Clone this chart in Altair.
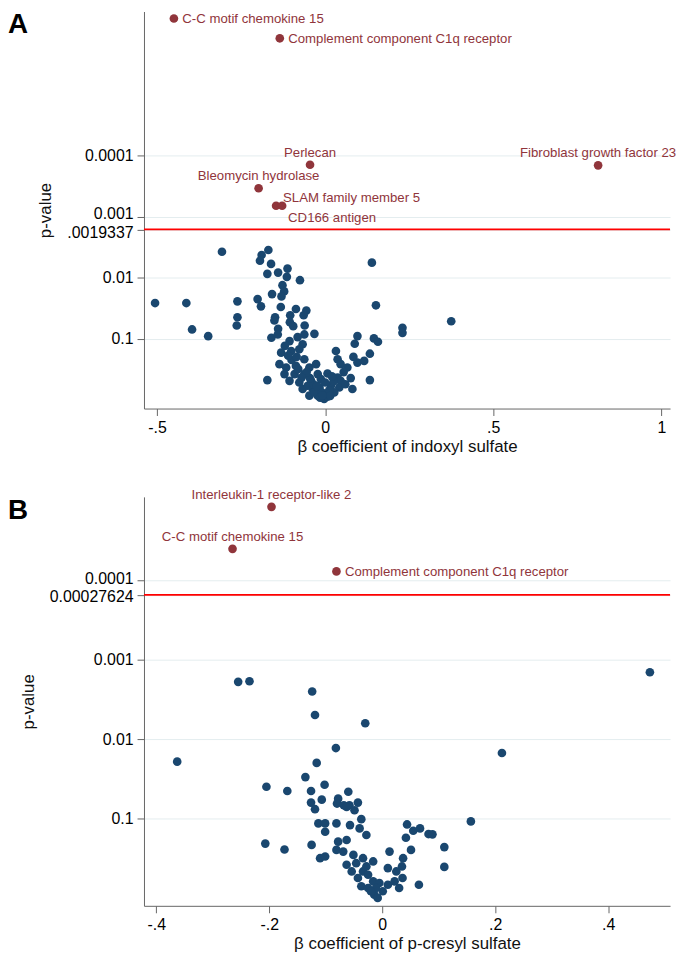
import altair as alt
import pandas as pd

BLUE = "#1a476f"
MAROON = "#90353b"
FONT = "Liberation Sans"

# ---------------- Panel A : indoxyl sulfate ----------------
a_beta = [-0.307, -0.169, -0.189, -0.194, -0.161, -0.112, -0.140, -0.172, -0.114, -0.075,
          0.139, -0.127, -0.122, -0.130, -0.158, -0.506, -0.413, -0.261, -0.201, -0.191,
          -0.132, -0.087, -0.056, 0.151, -0.104, -0.064, -0.261, -0.149, -0.151, -0.105,
          -0.263, -0.396, -0.140, -0.095, -0.061, -0.348, 0.230, 0.230, 0.375,
          -0.160, -0.141, -0.106, -0.082, -0.062, -0.032, -0.067, -0.131, -0.101, -0.077,
          0.096, 0.088, 0.145, 0.157, 0.032, 0.037, 0.084, 0.133, -0.136, -0.116,
          -0.087, -0.062, -0.047, -0.027, -0.091, -0.121, -0.062, -0.022, 0.007, 0.046,
          0.066, 0.096, 0.116, -0.172, 0.133, 0.076, -0.106, -0.077, -0.042, -0.013,
          0.037, 0.046, -0.067, -0.037, -0.017, 0.017, 0.042, 0.081, -0.047, -0.022,
          -0.003, 0.007, 0.027, -0.032, -0.052,
          -0.035, -0.010, 0.012, -0.015, 0.015, -0.045, -0.055, 0.000, 0.025, -0.070,
          -0.080, -0.100, -0.110, -0.120, -0.085, 0.055, 0.060, 0.020, -0.025, -0.008]
a_log10p = [-2.425, -2.453, -2.371, -2.278, -2.225, -2.148, -2.083, -2.062, -2.013, -1.958,
            -2.246, -1.876, -1.774, -1.692, -1.730, -1.583, -1.583, -1.611, -1.648, -1.529,
            -1.518, -1.485, -1.459, -1.546, -1.383, -1.383, -1.350, -1.350, -1.296, -1.269,
            -1.215, -1.150, -1.160, -1.204, -1.215, -1.040, -1.176, -1.094, -1.285,
            -1.013, -1.068, -0.959, -1.024, -1.068, -1.078, -0.906, -0.769, -0.797, -0.824,
            -1.041, -0.915, -1.003, -0.948, -0.797, -0.661, -0.699, -0.752, -0.580, -0.525,
            -0.552, -0.661, -0.525, -0.580, -0.417, -0.417, -0.417, -0.417, -0.427, -0.580,
            -0.525, -0.606, -0.634, -0.319, -0.319, -0.352, -0.307, -0.280, -0.307, -0.335,
            -0.362, -0.307, -0.173, -0.173, -0.199, -0.226, -0.199, -0.173, -0.064, -0.064,
            -0.010, -0.047, -0.117, -0.117, -0.226,
            -0.250, -0.120, -0.150, -0.030, -0.060, -0.350, -0.450, -0.280, -0.300, -0.360,
            -0.500, -0.650, -0.720, -0.880, -0.700, -0.450, -0.250, -0.380, -0.220, -0.070]

a_sig_names = ["C-C motif chemokine 15", "Complement component C1q receptor", "Perlecan",
               "Fibroblast growth factor 23", "Bleomycin hydrolase",
               "SLAM family member 5", "CD166 antigen"]
a_sig_beta = [-0.450, -0.135, -0.045, 0.812, -0.198, -0.146, -0.128]
a_sig_log10p = [-6.252, -5.927, -3.852, -3.842, -3.467, -3.180, -3.180]
a_sig_labelpos = ["3", "3", "12", "12", "12", "1", "5"]   # clock positions

a_x_ticks = [-0.5, 0, 0.5, 1]
a_x_labels = ["-.5", "0", ".5", "1"]
a_threshold = 0.00162          # where the .0019337 line is drawn
a_y_ticks = [0.0001, 0.001, a_threshold, 0.01, 0.1]
a_y_labels = ["0.0001", "0.001", ".0019337", "0.01", "0.1"]
a_label_nudge = [0, -3, 3, 0, 0]
a_x_domain = [-0.539, 1.026]
a_y_domain = [4.3e-7, 1.406]

# ---------------- Panel B : p-cresyl sulfate ----------------
b_beta = [-0.255, -0.235, -0.124, -0.119, -0.030, -0.082, -0.363, -0.116, -0.136, -0.102,
          -0.205, -0.168, -0.126, -0.060, -0.107, -0.126, -0.078, -0.043, -0.080, -0.068,
          -0.058,
          0.474, 0.212, 0.157, 0.044, 0.055, 0.067, 0.082, 0.042,
          -0.119, -0.063, -0.049, -0.113, -0.101, -0.101, -0.081, -0.057, -0.037, -0.040,
          -0.028, 0.051, -0.125, -0.110, -0.101, -0.078, -0.063, -0.081, -0.069, 0.013,
          0.037, 0.035, 0.065, -0.063, -0.051, -0.034, -0.016, -0.054, -0.043, -0.034,
          -0.025, -0.037, -0.025, -0.014, -0.008, 0.001, 0.010, 0.022, 0.030, 0.036,
          0.010, 0.025, -0.016, -0.005, -0.046, -0.028, -0.011, -0.020,
          -0.207, -0.173, 0.110, 0.110, 0.089]
b_log10p = [-2.721, -2.729, -2.600, -2.304, -2.200, -1.887, -1.716, -1.700, -1.521, -1.425,
            -1.400, -1.346, -1.346, -1.337, -1.237, -1.200, -1.250, -1.200, -1.188, -1.166,
            -1.166,
            -2.842, -1.825, -0.963, -0.925, -0.846, -0.875, -0.804, -0.758,
            -1.117, -1.146, -1.104, -0.938, -0.938, -0.833, -0.938, -0.917, -0.992, -0.875,
            -0.792, -0.604, -0.667, -0.500, -0.521, -0.708, -0.729, -0.604, -0.583, -0.583,
            -0.500, -0.396, -0.166, -0.417, -0.541, -0.500, -0.459, -0.333, -0.250, -0.333,
            -0.291, -0.146, -0.125, -0.041, 0.000, -0.083, -0.166, -0.208, -0.125, -0.250,
            -0.375, -0.333, -0.208, -0.187, -0.437, -0.396, -0.125, -0.083,
            -0.684, -0.609, -0.640, -0.390, -0.800]

b_sig_names = ["Interleukin-1 receptor-like 2", "C-C motif chemokine 15",
               "Complement component C1q receptor"]
b_sig_beta = [-0.196, -0.265, -0.081]
b_sig_log10p = [-4.925, -4.396, -4.112]
b_sig_labelpos = ["12", "12", "3"]

b_x_ticks = [-0.4, -0.2, 0, 0.2, 0.4]
b_x_labels = ["-.4", "-.2", "0", ".2", ".4"]
b_threshold = 0.000153         # where the 0.00027624 line is drawn
b_y_ticks = [0.0001, b_threshold, 0.001, 0.01, 0.1]
b_y_labels = ["0.0001", "0.00027624", "0.001", "0.01", "0.1"]
b_label_nudge = [-2, 2, 0, 0, 0]
b_x_domain = [-0.4218, 0.5097]
b_y_domain = [8.9e-6, 1.259]

# marker-label placement by clock position
LABEL_STYLE = {
    "3": dict(align="left", dx=8.5, dy=1),
    "12": dict(align="center", dx=0, dy=-12),
    "1": dict(align="left", dx=7, dy=-7.5),
    "5": dict(align="left", dx=6, dy=12),
}


def label_expr(values, labels):
    expr = "''"
    for v, lab in reversed(list(zip(values, labels))):
        expr = f"datum.value == {v!r} ? '{lab}' : ({expr})"
    return expr


def nudge(values, offsets):
    conds = [{"test": f"datum.value == {v!r}", "value": o}
             for v, o in zip(values, offsets) if o != 0]
    return {"condition": conds, "value": 0}


def panel(letter, beta, log10p, sig_names, sig_beta, sig_log10p, sig_pos,
          x_ticks, x_labels, y_ticks, y_labels, y_nudge, thr, x_domain, y_domain,
          x_title, height):
    pts = pd.DataFrame({"beta": beta, "p": [10 ** v for v in log10p]})
    sig = pd.DataFrame({"name": sig_names, "beta": sig_beta,
                        "p": [10 ** v for v in sig_log10p], "pos": sig_pos})
    thr_df = pd.DataFrame({"p": [thr]})

    xscale = alt.Scale(domain=x_domain, nice=False, zero=False)
    yscale = alt.Scale(type="log", domain=y_domain, nice=False, reverse=True)
    x_axis = alt.Axis(values=x_ticks, labelExpr=label_expr(x_ticks, x_labels), grid=False)
    y_axis = alt.Axis(values=y_ticks, labelExpr=label_expr(y_ticks, y_labels), grid=True,
                      labelOffset=nudge(y_ticks, y_nudge))

    xenc = alt.X("beta:Q", scale=xscale, title=x_title)
    yenc = alt.Y("p:Q", scale=yscale, title="p-value")

    base = alt.Chart(pts).mark_circle(size=76, color=BLUE, opacity=1).encode(
        x=alt.X("beta:Q", scale=xscale, title=x_title, axis=x_axis),
        y=alt.Y("p:Q", scale=yscale, title="p-value", axis=y_axis),
    )
    rule = alt.Chart(thr_df).mark_rule(color="#ff0000", strokeWidth=1.8).encode(y=yenc)
    sig_pts = alt.Chart(sig).mark_circle(size=76, color=MAROON, opacity=1).encode(x=xenc, y=yenc)
    panel_tag = alt.Chart(pd.DataFrame({"tag": [letter]})).mark_text(
        align="left", baseline="top", font=FONT, fontSize=28, fontWeight="bold",
        color="black", x=-137, y=0,
    ).encode(text="tag:N")
    layers = [base, rule, sig_pts]
    for pos, st in LABEL_STYLE.items():
        if pos in sig_pos:
            layers.append(
                alt.Chart(sig).transform_filter(alt.datum.pos == pos).mark_text(
                    font=FONT, fontSize=13.3, color=MAROON, baseline="middle", **st
                ).encode(x=xenc, y=yenc, text="name:N")
            )
    layers.append(panel_tag)
    return alt.layer(*layers).properties(width=530, height=height)


chart_a = panel("A", a_beta, a_log10p, a_sig_names, a_sig_beta, a_sig_log10p, a_sig_labelpos,
                a_x_ticks, a_x_labels, a_y_ticks, a_y_labels, a_label_nudge, a_threshold,
                a_x_domain, a_y_domain, "β coefficient of indoxyl sulfate", 400)
chart_b = panel("B", b_beta, b_log10p, b_sig_names, b_sig_beta, b_sig_log10p, b_sig_labelpos,
                b_x_ticks, b_x_labels, b_y_ticks, b_y_labels, b_label_nudge, b_threshold,
                b_x_domain, b_y_domain, "β coefficient of p-cresyl sulfate", 412)

chart = alt.vconcat(chart_a, chart_b, spacing=34).properties(padding=0).configure_view(
    stroke=None
).configure_axis(
    labelFont=FONT, titleFont=FONT, labelFontSize=16, titleFontSize=17,
    labelColor="black", titleColor="#111", titleFontWeight="normal",
    domainColor="#666", tickColor="#666", tickSize=7, labelPadding=4,
    labelOverlap=False, gridColor="#e4edef", gridWidth=1,
).configure_axisY(titlePadding=12).configure_axisX(titlePadding=3)

chart.save("out.html", embed_options={"renderer": "svg", "actions": False})
